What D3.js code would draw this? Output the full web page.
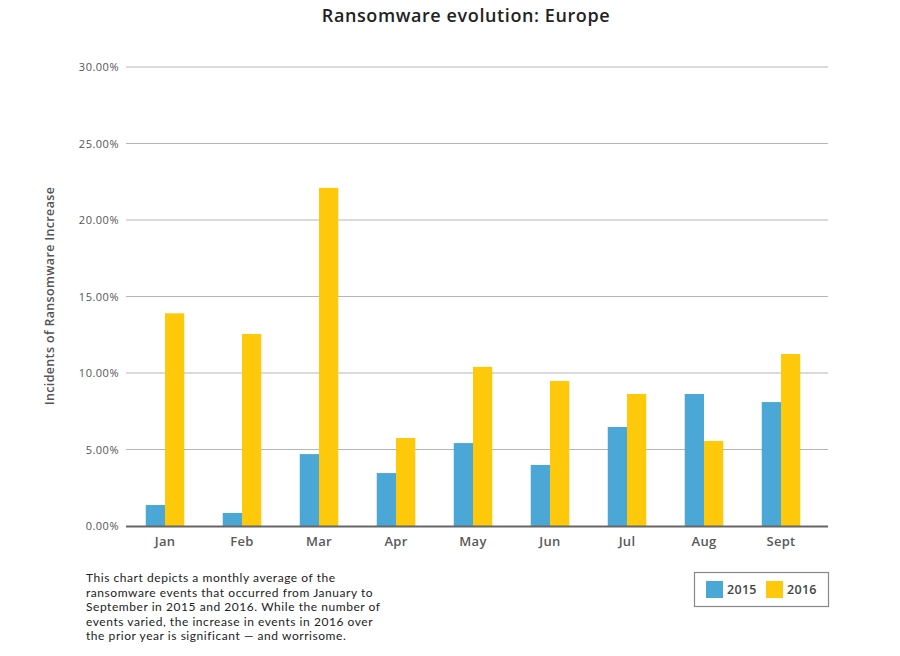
<!DOCTYPE html>
<html>
<head>
<meta charset="utf-8">
<script src="https://cdn.jsdelivr.net/npm/d3@7"></script>
<style>
  body { margin: 0; background: #fff; }
  text { font-family: "Open Sans", sans-serif; }
</style>
</head>
<body>
<svg></svg>
<script>
// chart data
const months = ["Jan", "Feb", "Mar", "Apr", "May", "Jun", "Jul", "Aug", "Sept"];
const years = ["2015", "2016"];
const values2015 = [1.37, 0.85, 4.7, 3.46, 5.42, 3.99, 6.47, 8.63, 8.1];
const values2016 = [13.9, 12.55, 22.1, 5.75, 10.4, 9.48, 8.63, 5.56, 11.24];
const yTicks = [0, 5, 10, 15, 20, 25, 30];
const caption = [
  "This chart depicts a monthly average of the",
  "ransomware events that occurred from January to",
  "September in 2015 and 2016. While the number of",
  "events varied, the increase in events in 2016 over",
  "the prior year is significant \u2014 and worrisome."
];

const w = 900;
const h = 656;
const colors = { "2015": "#4ba7d5", "2016": "#fec80b" };

const svg = d3.select('svg')
  .attr('width', w)
  .attr('height', h);

const xScale = d3.scaleBand()
  .domain(months)
  .range([126.5, 819.5])
  .paddingInner(0.5)
  .paddingOuter(0.25);

const xSub = d3.scaleBand()
  .domain(years)
  .range([0, xScale.bandwidth()]);

const yScale = d3.scaleLinear()
  .domain([0, 30])
  .range([526, 67]);

// gridlines
svg.append('g')
  .selectAll('line')
  .data(yTicks.filter(d => d > 0))
  .enter()
  .append('line')
  .attr('x1', 126)
  .attr('x2', 828)
  .attr('y1', d => yScale(d))
  .attr('y2', d => yScale(d))
  .attr('stroke', '#b5b5b5')
  .attr('stroke-width', 1);

// y axis labels
const yAxis = d3.axisLeft(yScale)
  .tickValues(yTicks)
  .tickFormat(d => d.toFixed(2) + '%')
  .tickSize(0)
  .tickPadding(7);

svg.append('g')
  .attr('transform', 'translate(126,0)')
  .call(yAxis)
  .call(g => g.select('.domain').remove())
  .call(g => g.selectAll('text')
    .attr('fill', '#555')
    .style('font-size', '11px')
    .style('letter-spacing', '0.5px')
    .style('font-family', '"Open Sans", sans-serif'));

// bars
const rows = months.map((m, i) => ({ month: m, "2015": values2015[i], "2016": values2016[i] }));

svg.append('g')
  .selectAll('g')
  .data(rows)
  .enter()
  .append('g')
  .attr('transform', d => 'translate(' + xScale(d.month) + ',0)')
  .selectAll('rect')
  .data(d => years.map(y => ({ year: y, value: d[y] })))
  .enter()
  .append('rect')
  .attr('x', d => xSub(d.year))
  .attr('width', xSub.bandwidth())
  .attr('y', d => yScale(d.value))
  .attr('height', d => yScale(0) - yScale(d.value))
  .attr('fill', d => colors[d.year]);

// x axis
const xAxis = d3.axisBottom(xScale)
  .tickSize(0)
  .tickPadding(11);

svg.append('g')
  .attr('transform', 'translate(0,' + yScale(0) + ')')
  .call(xAxis)
  .call(g => g.select('.domain').remove())
  .call(g => g.selectAll('text')
    .attr('fill', '#595959')
    .style('font-size', '13px')
    .style('letter-spacing', '0.3px')
    .style('font-weight', 600)
    .style('font-family', '"Open Sans", sans-serif'));

svg.append('line')
  .attr('x1', 126)
  .attr('x2', 828)
  .attr('y1', yScale(0) + 0.5)
  .attr('y2', yScale(0) + 0.5)
  .attr('stroke', '#666')
  .attr('stroke-width', 2);

// title
svg.append('text')
  .attr('x', 466)
  .attr('y', 22)
  .attr('text-anchor', 'middle')
  .attr('fill', '#222')
  .style('font-size', '18px')
  .style('letter-spacing', '0.6px')
  .style('font-weight', 600)
  .text('Ransomware evolution: Europe');

// y axis title
svg.append('text')
  .attr('transform', 'translate(54,296) rotate(-90)')
  .attr('text-anchor', 'middle')
  .attr('fill', '#555')
  .style('font-size', '12.5px')
  .style('letter-spacing', '0.35px')
  .style('font-weight', 600)
  .text('Incidents of Ransomware Increase');

// caption, one text per line
svg.append('g')
  .selectAll('text')
  .data(caption)
  .enter()
  .append('text')
  .attr('x', 86)
  .attr('y', (d, i) => 582 + i * 14.6)
  .attr('fill', '#222')
  .style('font-family', 'Lato, sans-serif')
  .style('font-size', '12px')
  .style('letter-spacing', '0.55px')
  .text(d => d);

// legend
svg.append('rect')
  .attr('x', 694.5)
  .attr('y', 572.5)
  .attr('width', 134)
  .attr('height', 34)
  .attr('fill', 'none')
  .attr('stroke', '#888')
  .attr('stroke-width', 1.2);

const legend = svg.append('g')
  .selectAll('g')
  .data(years)
  .enter()
  .append('g')
  .attr('transform', (d, i) => 'translate(' + (706 + i * 60) + ',581)');

legend.append('rect')
  .attr('width', 17)
  .attr('height', 17)
  .attr('fill', d => colors[d]);

legend.append('text')
  .attr('x', 21)
  .attr('y', 13)
  .attr('fill', '#444')
  .style('font-size', '12.5px')
  .style('letter-spacing', '0.3px')
  .style('font-weight', 600)
  .text(d => d);
</script>
</body>
</html>
